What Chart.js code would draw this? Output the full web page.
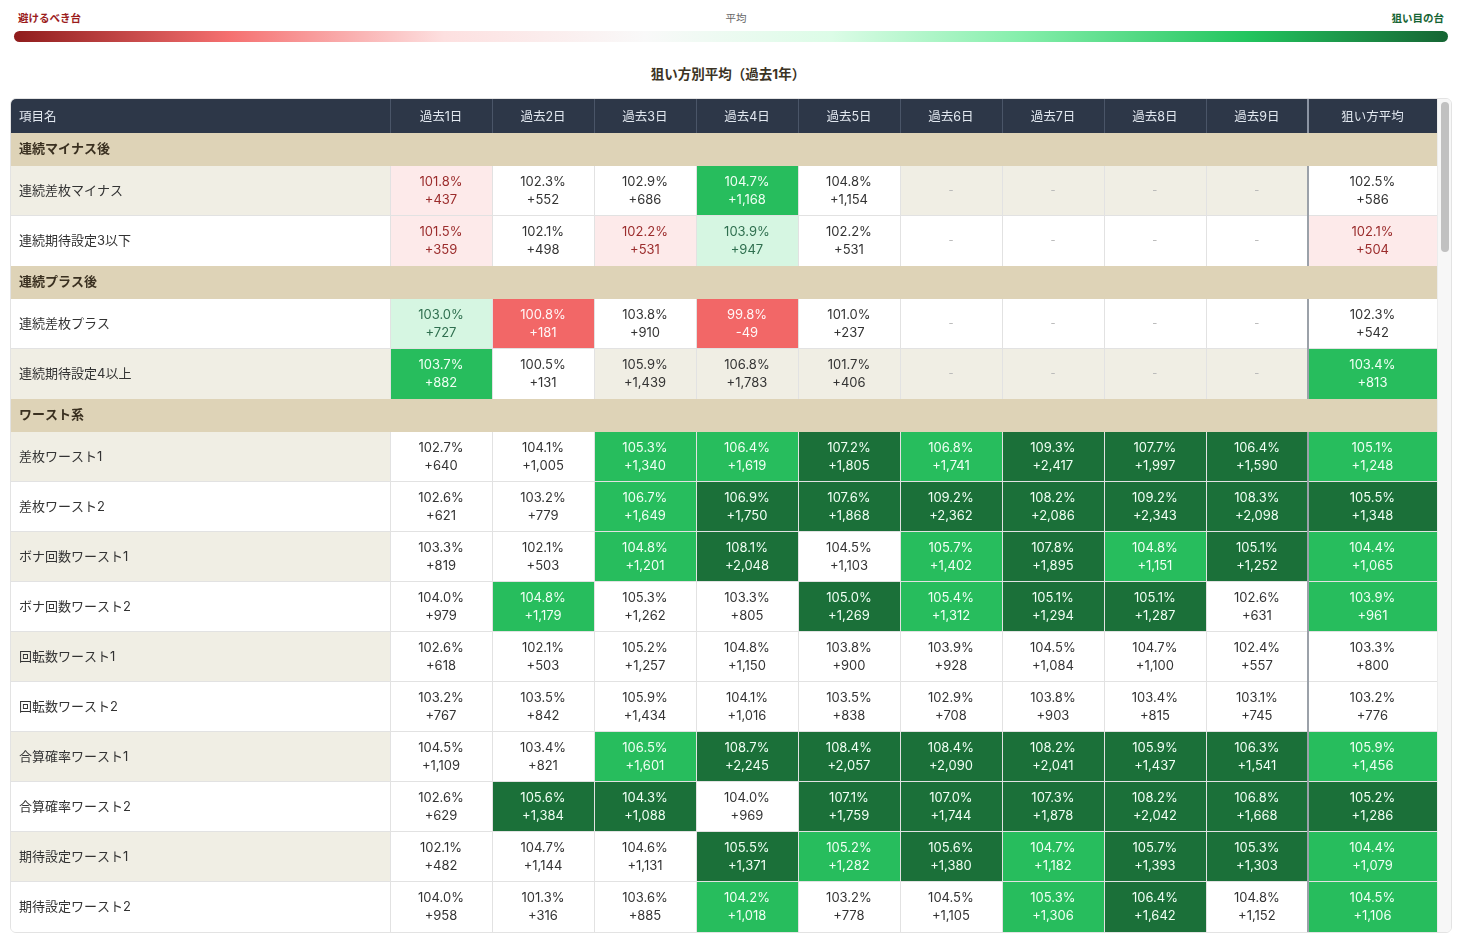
<!DOCTYPE html>
<html lang="ja">
<head>
<meta charset="utf-8">
<title>狙い方別平均（過去1年）</title>
<script src="https://cdn.jsdelivr.net/npm/chart.js@4.4.1/dist/chart.umd.min.js"></script>
<style>
  body { margin: 0; background: #fff; width: 1462px; height: 941px; overflow: hidden; position: relative;
         font-family: Inter, 'Noto Sans CJK JP', sans-serif; }
  .lg { position: absolute; top: 12px; font-size: 10.5px; font-weight: 700; line-height: 14px; }
  #lgBad { left: 18px; color: #9b1c1c; }
  #lgAvg { left: 0; width: 1472px; text-align: center; color: #666; font-weight: 400; }
  #lgGood { right: 18px; color: #166534; }
  #gradBar { position: absolute; left: 14px; top: 31px; width: 1434px; height: 11px; border-radius: 6px;
             background: linear-gradient(to right, #8f1c1c 0%, #f57070 15%, #fde0e0 30%, #f9f9f9 44%, #dcfce7 57%, #86efac 70%, #22c55e 86%, #166534 100%); }
  #title { position: absolute; top: 66px; left: 0; width: 1456px; text-align: center; font-size: 13.5px;
           font-weight: 700; color: #3b3324; line-height: 16px; }
  #wrap { position: absolute; left: 10px; top: 98px; width: 1440px; height: 833px; border: 1px solid #e3e3e3;
          border-radius: 6px; overflow: hidden; }
  #wrap canvas { position: absolute; left: 0; top: 0; }
  #track { position: absolute; left: 1426px; top: 0; width: 14px; height: 833px; background: #f7f7f7; border-left: 1px solid #ececec; }
  #thumb { position: absolute; left: 3px; top: 3px; width: 8px; height: 150px; border-radius: 4px; background: #c1c1c1; }
</style>
</head>
<body>
<div class="lg" id="lgBad">避けるべき台</div>
<div class="lg" id="lgAvg">平均</div>
<div class="lg" id="lgGood">狙い目の台</div>
<div id="gradBar"></div>
<div id="title">狙い方別平均（過去1年）</div>
<div id="wrap">
  <canvas id="heatmap" width="1426" height="833"></canvas>
  <div id="track"><div id="thumb"></div></div>
</div>
<script>
// 列見出し
const colLabels = ['過去1日', '過去2日', '過去3日', '過去4日', '過去5日', '過去6日', '過去7日', '過去8日', '過去9日', '狙い方平均'];

// グループ
const groupNames = ['連続マイナス後', '連続プラス後', 'ワースト系'];

// 行（項目名）とグループ番号
const rowNames = [
  '連続差枚マイナス', '連続期待設定3以下',
  '連続差枚プラス', '連続期待設定4以上',
  '差枚ワースト1', '差枚ワースト2', 'ボナ回数ワースト1', 'ボナ回数ワースト2', '回転数ワースト1',
  '回転数ワースト2', '合算確率ワースト1', '合算確率ワースト2', '期待設定ワースト1', '期待設定ワースト2'
];
const rowGroup = [0, 0, 1, 1, 2, 2, 2, 2, 2, 2, 2, 2, 2, 2];

// 機械割（%）過去1〜9日
const pctValues = [
  [101.8, 102.3, 102.9, 104.7, 104.8, null, null, null, null],
  [101.5, 102.1, 102.2, 103.9, 102.2, null, null, null, null],
  [103.0, 100.8, 103.8, 99.8, 101.0, null, null, null, null],
  [103.7, 100.5, 105.9, 106.8, 101.7, null, null, null, null],
  [102.7, 104.1, 105.3, 106.4, 107.2, 106.8, 109.3, 107.7, 106.4],
  [102.6, 103.2, 106.7, 106.9, 107.6, 109.2, 108.2, 109.2, 108.3],
  [103.3, 102.1, 104.8, 108.1, 104.5, 105.7, 107.8, 104.8, 105.1],
  [104.0, 104.8, 105.3, 103.3, 105.0, 105.4, 105.1, 105.1, 102.6],
  [102.6, 102.1, 105.2, 104.8, 103.8, 103.9, 104.5, 104.7, 102.4],
  [103.2, 103.5, 105.9, 104.1, 103.5, 102.9, 103.8, 103.4, 103.1],
  [104.5, 103.4, 106.5, 108.7, 108.4, 108.4, 108.2, 105.9, 106.3],
  [102.6, 105.6, 104.3, 104.0, 107.1, 107.0, 107.3, 108.2, 106.8],
  [102.1, 104.7, 104.6, 105.5, 105.2, 105.6, 104.7, 105.7, 105.3],
  [104.0, 101.3, 103.6, 104.2, 103.2, 104.5, 105.3, 106.4, 104.8]
];

// 平均差枚 過去1〜9日
const diffValues = [
  [437, 552, 686, 1168, 1154, null, null, null, null],
  [359, 498, 531, 947, 531, null, null, null, null],
  [727, 181, 910, -49, 237, null, null, null, null],
  [882, 131, 1439, 1783, 406, null, null, null, null],
  [640, 1005, 1340, 1619, 1805, 1741, 2417, 1997, 1590],
  [621, 779, 1649, 1750, 1868, 2362, 2086, 2343, 2098],
  [819, 503, 1201, 2048, 1103, 1402, 1895, 1151, 1252],
  [979, 1179, 1262, 805, 1269, 1312, 1294, 1287, 631],
  [618, 503, 1257, 1150, 900, 928, 1084, 1100, 557],
  [767, 842, 1434, 1016, 838, 708, 903, 815, 745],
  [1109, 821, 1601, 2245, 2057, 2090, 2041, 1437, 1541],
  [629, 1384, 1088, 969, 1759, 1744, 1878, 2042, 1668],
  [482, 1144, 1131, 1371, 1282, 1380, 1182, 1393, 1303],
  [958, 316, 885, 1018, 778, 1105, 1306, 1642, 1152]
];

// 狙い方平均
const avgPct = [102.5, 102.1, 102.3, 103.4, 105.1, 105.5, 104.4, 103.9, 103.3, 103.2, 105.9, 105.2, 104.4, 104.5];
const avgDiff = [586, 504, 542, 813, 1248, 1348, 1065, 961, 800, 776, 1456, 1286, 1079, 1106];

// 評価ランク: r=赤, lr=薄赤, w=平均, lg=薄緑, g=緑, dg=濃緑, n=なし
const cellLevels = [
  ['lr', 'w', 'w', 'g', 'w', 'n', 'n', 'n', 'n'],
  ['lr', 'w', 'lr', 'lg', 'w', 'n', 'n', 'n', 'n'],
  ['lg', 'r', 'w', 'r', 'w', 'n', 'n', 'n', 'n'],
  ['g', 'w', 'n', 'n', 'n', 'n', 'n', 'n', 'n'],
  ['w', 'w', 'g', 'g', 'dg', 'g', 'dg', 'dg', 'dg'],
  ['w', 'w', 'g', 'dg', 'dg', 'dg', 'dg', 'dg', 'dg'],
  ['w', 'w', 'g', 'dg', 'w', 'g', 'dg', 'g', 'dg'],
  ['w', 'g', 'w', 'w', 'dg', 'g', 'dg', 'dg', 'w'],
  ['w', 'w', 'w', 'w', 'w', 'w', 'w', 'w', 'w'],
  ['w', 'w', 'w', 'w', 'w', 'w', 'w', 'w', 'w'],
  ['w', 'w', 'g', 'dg', 'dg', 'dg', 'dg', 'dg', 'dg'],
  ['w', 'dg', 'dg', 'w', 'dg', 'dg', 'dg', 'dg', 'dg'],
  ['w', 'w', 'w', 'dg', 'g', 'dg', 'g', 'dg', 'dg'],
  ['w', 'w', 'w', 'g', 'w', 'w', 'g', 'dg', 'w']
];
const avgLevels = ['w', 'lr', 'w', 'g', 'g', 'dg', 'g', 'g', 'w', 'w', 'g', 'dg', 'g', 'g'];

// 見た目
const levelBg = { r: '#f26767', lr: '#fdeaea', w: '#ffffff', lg: '#d6f6e2', g: '#27bd5d', dg: '#1b7039' };
const levelText = { r: '#fff8f8', lr: '#9b2c2c', w: '#333333', lg: '#2f6f4f', g: '#f0fff4', dg: '#f0fff4', n: '#333333' };
const AVG_SPAN = 1.266;    // 平均列は少し広い
const GROUP_SPAN = 0.66;   // グループ見出し行の高さ

// 表示行リスト（グループ見出し＋データ行）を組み立て
const tableRows = [];
let pos = 0;
rowNames.forEach((name, i) => {
  if (i === 0 || rowGroup[i] !== rowGroup[i - 1]) {
    tableRows.push({ type: 'group', label: groupNames[rowGroup[i]], start: pos, span: GROUP_SPAN });
    pos += GROUP_SPAN;
  }
  tableRows.push({ type: 'data', label: name, idx: i, start: pos, span: 1 });
  pos += 1;
});
const totalSpan = pos;
const colStart = colLabels.map((_, c) => c);
const colSpan = colLabels.map((_, c) => (c === 9 ? AVG_SPAN : 1));

function fmtDiff(v) {
  return (v >= 0 ? '+' : '-') + Math.abs(v).toLocaleString('en-US');
}

Chart.defaults.font.family = "Inter, 'Noto Sans CJK JP', sans-serif";

// 表の背景・セル・罫線・数値を描くプラグイン
const tablePlugin = {
  id: 'heatTable',
  beforeDraw(chart) {
    const { ctx, scales: { x, y } } = chart;
    const right = x.right;
    ctx.save();
    // ヘッダー
    ctx.fillStyle = '#2d3748';
    ctx.fillRect(0, 0, right, y.top);
    ctx.fillStyle = '#e2e8f0';
    ctx.font = "12.5px Inter, 'Noto Sans CJK JP', sans-serif";
    ctx.textAlign = 'left';
    ctx.textBaseline = 'middle';
    ctx.fillText('項目名', 8, y.top / 2 + 1);
    for (let c = 0; c < colLabels.length; c++) {
      const px = Math.round(x.getPixelForValue(colStart[c]));
      ctx.fillStyle = c === 9 ? '#8b94a3' : '#4a5568';
      ctx.fillRect(c === 9 ? px - 1 : px, 0, c === 9 ? 2 : 1, y.top);
    }

    tableRows.forEach((row, k) => {
      const top = Math.round(y.getPixelForValue(row.start));
      const bot = Math.round(y.getPixelForValue(row.start + row.span));
      if (row.type === 'group') {
        ctx.fillStyle = '#ded3b7';
        ctx.fillRect(0, top, right, bot - top);
        return;
      }
      const rowBg = k % 2 === 1 ? '#f0eee4' : '#ffffff';
      ctx.fillStyle = rowBg;
      ctx.fillRect(0, top, x.left, bot - top);
      for (let c = 0; c < colLabels.length; c++) {
        const lv = c === 9 ? avgLevels[row.idx] : cellLevels[row.idx][c];
        const x0 = Math.round(x.getPixelForValue(colStart[c]));
        const x1 = Math.round(x.getPixelForValue(colStart[c] + colSpan[c]));
        ctx.fillStyle = lv === 'n' ? rowBg : levelBg[lv];
        ctx.fillRect(x0, top, x1 - x0, bot - top);
      }
      // 罫線
      ctx.fillStyle = '#e2e2e2';
      const next = tableRows[k + 1];
      if (next && next.type === 'data') ctx.fillRect(0, bot - 1, right, 1);
      for (let c = 0; c < colLabels.length; c++) {
        const px = Math.round(x.getPixelForValue(colStart[c]));
        if (c === 9) {
          ctx.fillStyle = '#9ba1a9';
          ctx.fillRect(px - 1, top, 2, bot - top);
          ctx.fillStyle = '#e2e2e2';
        } else {
          ctx.fillRect(px, top, 1, bot - top);
        }
      }
    });
    ctx.restore();
  },
  afterDraw(chart) {
    const { ctx, scales: { x, y } } = chart;
    ctx.save();
    ctx.textAlign = 'center';
    ctx.textBaseline = 'middle';
    tableRows.forEach(row => {
      if (row.type !== 'data') return;
      const cy = y.getPixelForValue(row.start + row.span / 2);
      for (let c = 0; c < colLabels.length; c++) {
        const cx = x.getPixelForValue(colStart[c] + colSpan[c] / 2);
        const pct = c === 9 ? avgPct[row.idx] : pctValues[row.idx][c];
        const diff = c === 9 ? avgDiff[row.idx] : diffValues[row.idx][c];
        const lv = c === 9 ? avgLevels[row.idx] : cellLevels[row.idx][c];
        if (pct === null) {
          ctx.fillStyle = '#b5b5b5';
          ctx.font = "11px Inter, 'Noto Sans CJK JP', sans-serif";
          ctx.fillText('-', cx, cy);
          continue;
        }
        ctx.fillStyle = levelText[lv];
        ctx.font = "13px Inter, 'Noto Sans CJK JP', sans-serif";
        ctx.fillText(pct.toFixed(1) + '%', cx, cy - 8.5);
        ctx.fillText(fmtDiff(diff), cx, cy + 9.5);
      }
    });
    ctx.restore();
  }
};

// セル中心（スケール用の見えない点）
const cellPoints = [];
tableRows.forEach(row => {
  if (row.type !== 'data') return;
  colLabels.forEach((_, c) => {
    cellPoints.push({ x: colStart[c] + colSpan[c] / 2, y: row.start + 0.5 });
  });
});

new Chart(document.getElementById('heatmap'), {
  type: 'scatter',
  data: {
    datasets: [{ label: '狙い方別平均', data: cellPoints, pointRadius: 0, pointHoverRadius: 0 }]
  },
  options: {
    responsive: false,
    animation: false,
    events: [],
    layout: { padding: { left: 8, right: 0, top: 0, bottom: 0 } },
    plugins: { legend: { display: false }, tooltip: { enabled: false }, title: { display: false } },
    scales: {
      x: {
        type: 'linear', position: 'top', min: 0, max: 9 + AVG_SPAN,
        grid: { display: false, drawTicks: false }, border: { display: false },
        afterFit(s) { s.height = 34; s.paddingLeft = 0; s.paddingRight = 0; },
        afterBuildTicks(s) { s.ticks = colLabels.map((_, c) => ({ value: colStart[c] + colSpan[c] / 2 })); },
        ticks: {
          autoSkip: false, maxRotation: 0, padding: 8, color: '#e2e8f0', font: { size: 12.5 },
          callback: (v, i) => colLabels[i]
        }
      },
      y: {
        type: 'linear', reverse: true, min: 0, max: totalSpan,
        grid: { display: false, drawTicks: false }, border: { display: false },
        afterFit(s) { s.width = 371; s.paddingTop = 0; s.paddingBottom = 0; },
        afterBuildTicks(s) { s.ticks = tableRows.map(r => ({ value: r.start + r.span / 2 })); },
        ticks: {
          autoSkip: false, crossAlign: 'far', padding: 0,
          callback: (v, i) => tableRows[i].label,
          color: c => (tableRows[c.index] && tableRows[c.index].type === 'group' ? '#3a3020' : '#333333'),
          font: c => (tableRows[c.index] && tableRows[c.index].type === 'group' ? { size: 13, weight: 'bold' } : { size: 13 })
        }
      }
    }
  },
  plugins: [tablePlugin]
});
</script>
</body>
</html>
